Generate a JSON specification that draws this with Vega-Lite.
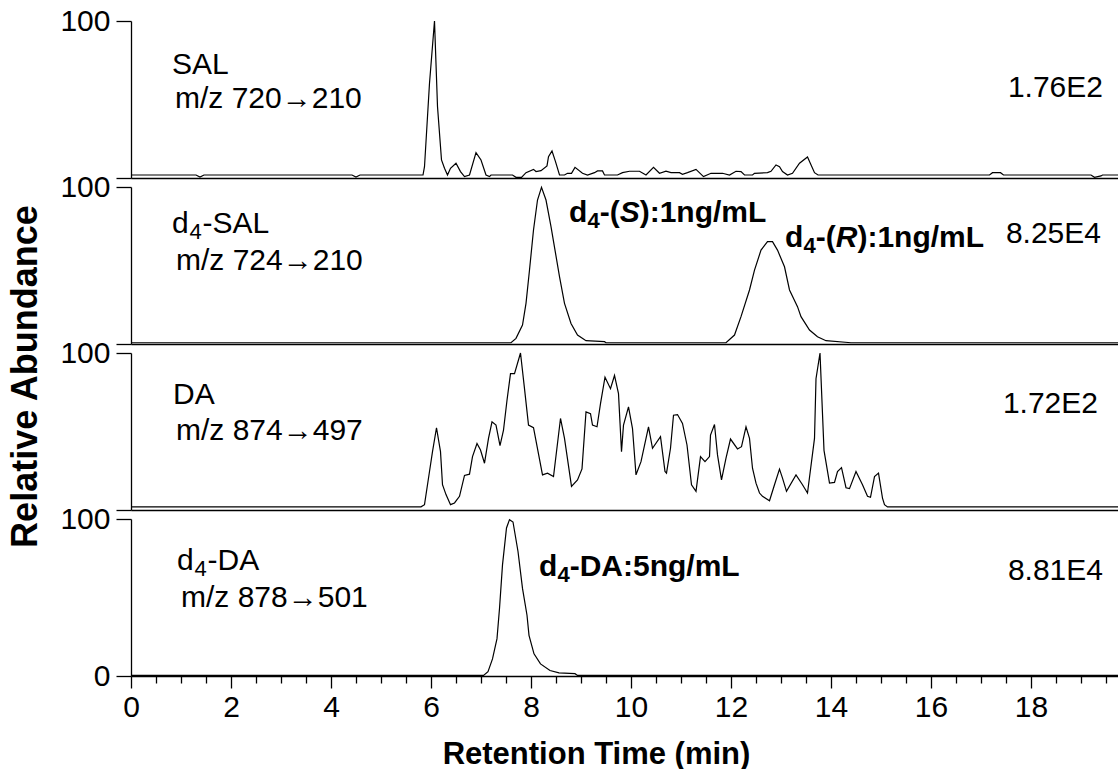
{
  "$schema": "https://vega.github.io/schema/vega-lite/v6.json",
  "padding": {"left": 7, "top": 6, "right": 0, "bottom": 0},
  "bounds": "flush",
  "spacing": 9,
  "config": {
    "font": "Liberation Sans",
    "view": {"stroke": null},
    "axis": {
      "domainColor": "black", "domainWidth": 1.3,
      "tickColor": "black", "tickWidth": 1.3,
      "labelColor": "black", "labelFontSize": 30, "labelFont": "Liberation Sans",
      "titleColor": "black", "titleFont": "Liberation Sans",
      "grid": false, "labelOverlap": false
    },
    "text": {"color": "black", "font": "Liberation Sans", "fontSize": 30, "align": "left", "baseline": "alphabetic"},
    "line": {"color": "black", "strokeWidth": 1.2}
  },
  "datasets": {
    "trace": [
      {"panel": "SAL", "t": 0, "v": 1.9}, {"panel": "SAL", "t": 1.3, "v": 1.9}, {"panel": "SAL", "t": 1.38, "v": 0.6}, {"panel": "SAL", "t": 1.46, "v": 1.9},
      {"panel": "SAL", "t": 4.42, "v": 1.9}, {"panel": "SAL", "t": 4.5, "v": 0.6}, {"panel": "SAL", "t": 4.58, "v": 1.9}, {"panel": "SAL", "t": 5.84, "v": 1.9},
      {"panel": "SAL", "t": 5.87, "v": 7.2}, {"panel": "SAL", "t": 5.97, "v": 60.3}, {"panel": "SAL", "t": 6.07, "v": 100}, {"panel": "SAL", "t": 6.13, "v": 45.5},
      {"panel": "SAL", "t": 6.21, "v": 11.5}, {"panel": "SAL", "t": 6.27, "v": 6.2}, {"panel": "SAL", "t": 6.33, "v": 1.9}, {"panel": "SAL", "t": 6.39, "v": 6.2},
      {"panel": "SAL", "t": 6.5, "v": 9.4}, {"panel": "SAL", "t": 6.59, "v": 4.1}, {"panel": "SAL", "t": 6.67, "v": 0.9}, {"panel": "SAL", "t": 6.77, "v": 1.9},
      {"panel": "SAL", "t": 6.9, "v": 16.2}, {"panel": "SAL", "t": 7.0, "v": 11.5}, {"panel": "SAL", "t": 7.1, "v": 1.9}, {"panel": "SAL", "t": 7.17, "v": 0.9},
      {"panel": "SAL", "t": 7.2, "v": 1.9}, {"panel": "SAL", "t": 7.63, "v": 1.9}, {"panel": "SAL", "t": 7.7, "v": 0.4}, {"panel": "SAL", "t": 7.81, "v": 0.4},
      {"panel": "SAL", "t": 7.9, "v": 3.4}, {"panel": "SAL", "t": 8.05, "v": 5.5}, {"panel": "SAL", "t": 8.1, "v": 4.1}, {"panel": "SAL", "t": 8.2, "v": 4.7},
      {"panel": "SAL", "t": 8.32, "v": 7.7}, {"panel": "SAL", "t": 8.35, "v": 13.6}, {"panel": "SAL", "t": 8.42, "v": 17.2}, {"panel": "SAL", "t": 8.49, "v": 10.4},
      {"panel": "SAL", "t": 8.57, "v": 1.9}, {"panel": "SAL", "t": 8.67, "v": 1.9}, {"panel": "SAL", "t": 8.73, "v": 3.0}, {"panel": "SAL", "t": 8.81, "v": 3.0},
      {"panel": "SAL", "t": 8.88, "v": 6.8}, {"panel": "SAL", "t": 9.03, "v": 3.0}, {"panel": "SAL", "t": 9.13, "v": 1.9}, {"panel": "SAL", "t": 9.27, "v": 3.4},
      {"panel": "SAL", "t": 9.33, "v": 4.5}, {"panel": "SAL", "t": 9.43, "v": 4.5}, {"panel": "SAL", "t": 9.47, "v": 1.9}, {"panel": "SAL", "t": 9.73, "v": 1.9},
      {"panel": "SAL", "t": 9.83, "v": 3.4}, {"panel": "SAL", "t": 9.97, "v": 4.3}, {"panel": "SAL", "t": 10.17, "v": 4.3}, {"panel": "SAL", "t": 10.3, "v": 1.9},
      {"panel": "SAL", "t": 10.45, "v": 6.8}, {"panel": "SAL", "t": 10.57, "v": 3.0}, {"panel": "SAL", "t": 10.7, "v": 4.3}, {"panel": "SAL", "t": 10.8, "v": 3.4},
      {"panel": "SAL", "t": 10.97, "v": 3.4}, {"panel": "SAL", "t": 11.03, "v": 2.4}, {"panel": "SAL", "t": 11.13, "v": 3.4}, {"panel": "SAL", "t": 11.3, "v": 5.5},
      {"panel": "SAL", "t": 11.45, "v": 0.9}, {"panel": "SAL", "t": 11.6, "v": 3.0}, {"panel": "SAL", "t": 11.83, "v": 3.0}, {"panel": "SAL", "t": 11.97, "v": 1.9},
      {"panel": "SAL", "t": 12.1, "v": 4.3}, {"panel": "SAL", "t": 12.2, "v": 4.1}, {"panel": "SAL", "t": 12.27, "v": 1.9}, {"panel": "SAL", "t": 12.43, "v": 1.9},
      {"panel": "SAL", "t": 12.47, "v": 3.0}, {"panel": "SAL", "t": 12.73, "v": 3.4}, {"panel": "SAL", "t": 12.8, "v": 4.3}, {"panel": "SAL", "t": 12.9, "v": 8.3},
      {"panel": "SAL", "t": 12.97, "v": 7.2}, {"panel": "SAL", "t": 13.03, "v": 4.1}, {"panel": "SAL", "t": 13.13, "v": 1.9}, {"panel": "SAL", "t": 13.23, "v": 3.0},
      {"panel": "SAL", "t": 13.37, "v": 9.4}, {"panel": "SAL", "t": 13.53, "v": 13.4}, {"panel": "SAL", "t": 13.67, "v": 3.4}, {"panel": "SAL", "t": 13.74, "v": 1.9},
      {"panel": "SAL", "t": 17.17, "v": 1.9}, {"panel": "SAL", "t": 17.23, "v": 3.4}, {"panel": "SAL", "t": 17.39, "v": 3.4}, {"panel": "SAL", "t": 17.45, "v": 1.9},
      {"panel": "SAL", "t": 19.2, "v": 1.9}, {"panel": "SAL", "t": 19.27, "v": 0.4}, {"panel": "SAL", "t": 19.4, "v": 1.3}, {"panel": "SAL", "t": 19.43, "v": 1.9},
      {"panel": "SAL", "t": 19.76, "v": 1.9},

      {"panel": "d4-SAL", "t": 0, "v": 0.8}, {"panel": "d4-SAL", "t": 7.6, "v": 0.8}, {"panel": "d4-SAL", "t": 7.7, "v": 3.6}, {"panel": "d4-SAL", "t": 7.83, "v": 12.1},
      {"panel": "d4-SAL", "t": 7.9, "v": 25.9}, {"panel": "d4-SAL", "t": 7.97, "v": 47.1}, {"panel": "d4-SAL", "t": 8.05, "v": 72.6}, {"panel": "d4-SAL", "t": 8.13, "v": 91.7},
      {"panel": "d4-SAL", "t": 8.21, "v": 99.8}, {"panel": "d4-SAL", "t": 8.3, "v": 91.7}, {"panel": "d4-SAL", "t": 8.4, "v": 74.7}, {"panel": "d4-SAL", "t": 8.48, "v": 59.8},
      {"panel": "d4-SAL", "t": 8.57, "v": 42.9}, {"panel": "d4-SAL", "t": 8.67, "v": 25.9}, {"panel": "d4-SAL", "t": 8.8, "v": 13.1}, {"panel": "d4-SAL", "t": 8.93, "v": 5.7},
      {"panel": "d4-SAL", "t": 9.1, "v": 2.1}, {"panel": "d4-SAL", "t": 9.47, "v": 1.5}, {"panel": "d4-SAL", "t": 9.5, "v": 0.8}, {"panel": "d4-SAL", "t": 11.9, "v": 0.8},
      {"panel": "d4-SAL", "t": 12.07, "v": 5.7}, {"panel": "d4-SAL", "t": 12.2, "v": 17.4}, {"panel": "d4-SAL", "t": 12.37, "v": 34.4}, {"panel": "d4-SAL", "t": 12.47, "v": 47.1},
      {"panel": "d4-SAL", "t": 12.6, "v": 59.8}, {"panel": "d4-SAL", "t": 12.73, "v": 65.2}, {"panel": "d4-SAL", "t": 12.83, "v": 65.2}, {"panel": "d4-SAL", "t": 12.93, "v": 59.8},
      {"panel": "d4-SAL", "t": 13.07, "v": 49.2}, {"panel": "d4-SAL", "t": 13.17, "v": 34.4}, {"panel": "d4-SAL", "t": 13.33, "v": 23.8}, {"panel": "d4-SAL", "t": 13.4, "v": 17.4},
      {"panel": "d4-SAL", "t": 13.57, "v": 8.9}, {"panel": "d4-SAL", "t": 13.73, "v": 4.6}, {"panel": "d4-SAL", "t": 13.9, "v": 2.1}, {"panel": "d4-SAL", "t": 14.4, "v": 0.8},
      {"panel": "d4-SAL", "t": 19.76, "v": 0.8},

      {"panel": "DA", "t": 0, "v": 2.0}, {"panel": "DA", "t": 5.8, "v": 2.0}, {"panel": "DA", "t": 5.87, "v": 3.4}, {"panel": "DA", "t": 5.97, "v": 24.5},
      {"panel": "DA", "t": 6.03, "v": 37.2}, {"panel": "DA", "t": 6.11, "v": 52.4}, {"panel": "DA", "t": 6.19, "v": 37.2}, {"panel": "DA", "t": 6.23, "v": 16.1},
      {"panel": "DA", "t": 6.3, "v": 9.8}, {"panel": "DA", "t": 6.39, "v": 3.4}, {"panel": "DA", "t": 6.47, "v": 4.5}, {"panel": "DA", "t": 6.57, "v": 8.7},
      {"panel": "DA", "t": 6.67, "v": 22.0}, {"panel": "DA", "t": 6.77, "v": 22.8}, {"panel": "DA", "t": 6.83, "v": 34.0}, {"panel": "DA", "t": 6.92, "v": 42.4},
      {"panel": "DA", "t": 6.99, "v": 38.2}, {"panel": "DA", "t": 7.07, "v": 29.8}, {"panel": "DA", "t": 7.15, "v": 45.6}, {"panel": "DA", "t": 7.22, "v": 56.2},
      {"panel": "DA", "t": 7.3, "v": 54.1}, {"panel": "DA", "t": 7.38, "v": 41.0}, {"panel": "DA", "t": 7.45, "v": 50.9}, {"panel": "DA", "t": 7.52, "v": 69.9},
      {"panel": "DA", "t": 7.59, "v": 86.8}, {"panel": "DA", "t": 7.67, "v": 86.8}, {"panel": "DA", "t": 7.79, "v": 100}, {"panel": "DA", "t": 7.87, "v": 77.3},
      {"panel": "DA", "t": 7.95, "v": 54.1}, {"panel": "DA", "t": 8.05, "v": 52.4}, {"panel": "DA", "t": 8.23, "v": 22.4}, {"panel": "DA", "t": 8.33, "v": 23.5},
      {"panel": "DA", "t": 8.45, "v": 21.3}, {"panel": "DA", "t": 8.59, "v": 58.3}, {"panel": "DA", "t": 8.67, "v": 45.6}, {"panel": "DA", "t": 8.81, "v": 15.0},
      {"panel": "DA", "t": 8.93, "v": 19.2}, {"panel": "DA", "t": 9.02, "v": 26.2}, {"panel": "DA", "t": 9.1, "v": 62.5}, {"panel": "DA", "t": 9.19, "v": 61.4},
      {"panel": "DA", "t": 9.23, "v": 54.1}, {"panel": "DA", "t": 9.32, "v": 53.0}, {"panel": "DA", "t": 9.39, "v": 67.8}, {"panel": "DA", "t": 9.48, "v": 84.6},
      {"panel": "DA", "t": 9.59, "v": 77.3}, {"panel": "DA", "t": 9.67, "v": 85.7}, {"panel": "DA", "t": 9.75, "v": 74.1}, {"panel": "DA", "t": 9.81, "v": 37.2},
      {"panel": "DA", "t": 9.85, "v": 54.1}, {"panel": "DA", "t": 9.95, "v": 65.7}, {"panel": "DA", "t": 10.03, "v": 51.9}, {"panel": "DA", "t": 10.1, "v": 22.4},
      {"panel": "DA", "t": 10.2, "v": 30.8}, {"panel": "DA", "t": 10.35, "v": 53.0}, {"panel": "DA", "t": 10.43, "v": 39.3}, {"panel": "DA", "t": 10.59, "v": 46.7},
      {"panel": "DA", "t": 10.68, "v": 24.5}, {"panel": "DA", "t": 10.71, "v": 23.5}, {"panel": "DA", "t": 10.79, "v": 39.3}, {"panel": "DA", "t": 10.85, "v": 60.4},
      {"panel": "DA", "t": 10.93, "v": 60.8}, {"panel": "DA", "t": 11.03, "v": 55.1}, {"panel": "DA", "t": 11.12, "v": 41.4}, {"panel": "DA", "t": 11.21, "v": 16.1},
      {"panel": "DA", "t": 11.3, "v": 11.9}, {"panel": "DA", "t": 11.39, "v": 34.0}, {"panel": "DA", "t": 11.48, "v": 30.8}, {"panel": "DA", "t": 11.57, "v": 34.0},
      {"panel": "DA", "t": 11.59, "v": 47.7}, {"panel": "DA", "t": 11.67, "v": 54.5}, {"panel": "DA", "t": 11.73, "v": 35.1}, {"panel": "DA", "t": 11.81, "v": 19.2},
      {"panel": "DA", "t": 11.9, "v": 33.0}, {"panel": "DA", "t": 11.99, "v": 45.2}, {"panel": "DA", "t": 12.13, "v": 38.9}, {"panel": "DA", "t": 12.21, "v": 40.3},
      {"panel": "DA", "t": 12.3, "v": 53.0}, {"panel": "DA", "t": 12.37, "v": 45.6}, {"panel": "DA", "t": 12.43, "v": 26.6}, {"panel": "DA", "t": 12.5, "v": 17.1},
      {"panel": "DA", "t": 12.57, "v": 10.8}, {"panel": "DA", "t": 12.63, "v": 8.7}, {"panel": "DA", "t": 12.77, "v": 5.9}, {"panel": "DA", "t": 12.87, "v": 16.1},
      {"panel": "DA", "t": 12.97, "v": 26.0}, {"panel": "DA", "t": 13.03, "v": 20.3}, {"panel": "DA", "t": 13.11, "v": 11.9}, {"panel": "DA", "t": 13.3, "v": 22.4},
      {"panel": "DA", "t": 13.43, "v": 16.1}, {"panel": "DA", "t": 13.53, "v": 10.8}, {"panel": "DA", "t": 13.67, "v": 45.6}, {"panel": "DA", "t": 13.7, "v": 83.6},
      {"panel": "DA", "t": 13.78, "v": 100}, {"panel": "DA", "t": 13.86, "v": 38.0}, {"panel": "DA", "t": 13.97, "v": 17.1}, {"panel": "DA", "t": 14.07, "v": 17.6},
      {"panel": "DA", "t": 14.13, "v": 24.5}, {"panel": "DA", "t": 14.21, "v": 27.0}, {"panel": "DA", "t": 14.3, "v": 14.2}, {"panel": "DA", "t": 14.37, "v": 13.6},
      {"panel": "DA", "t": 14.5, "v": 24.5}, {"panel": "DA", "t": 14.63, "v": 16.1}, {"panel": "DA", "t": 14.73, "v": 8.7}, {"panel": "DA", "t": 14.79, "v": 8.1},
      {"panel": "DA", "t": 14.87, "v": 21.3}, {"panel": "DA", "t": 14.95, "v": 23.5}, {"panel": "DA", "t": 15.03, "v": 7.6}, {"panel": "DA", "t": 15.07, "v": 3.4},
      {"panel": "DA", "t": 15.13, "v": 2.0}, {"panel": "DA", "t": 19.76, "v": 2.0},

      {"panel": "d4-DA", "t": 0, "v": 0.4}, {"panel": "d4-DA", "t": 7.05, "v": 0.4}, {"panel": "d4-DA", "t": 7.14, "v": 2.8}, {"panel": "d4-DA", "t": 7.23, "v": 10.9},
      {"panel": "d4-DA", "t": 7.32, "v": 23.8}, {"panel": "d4-DA", "t": 7.37, "v": 43.0}, {"panel": "d4-DA", "t": 7.43, "v": 70.8}, {"panel": "d4-DA", "t": 7.51, "v": 94.3},
      {"panel": "d4-DA", "t": 7.57, "v": 99.6}, {"panel": "d4-DA", "t": 7.64, "v": 98.1}, {"panel": "d4-DA", "t": 7.74, "v": 79.3}, {"panel": "d4-DA", "t": 7.83, "v": 55.8},
      {"panel": "d4-DA", "t": 7.92, "v": 38.7}, {"panel": "d4-DA", "t": 7.96, "v": 25.9}, {"panel": "d4-DA", "t": 8.06, "v": 14.1}, {"panel": "d4-DA", "t": 8.19, "v": 7.7},
      {"panel": "d4-DA", "t": 8.38, "v": 3.5}, {"panel": "d4-DA", "t": 8.56, "v": 2.0}, {"panel": "d4-DA", "t": 8.88, "v": 1.5}, {"panel": "d4-DA", "t": 8.93, "v": 0.4},
      {"panel": "d4-DA", "t": 19.76, "v": 0.4}
    ],
    "names": [
      {"panel": "SAL", "t": 0.82, "v": 66.2, "text": "SAL"},
      {"panel": "DA", "t": 0.84, "v": 67.7, "text": "DA"}
    ],
    "dnames": [
      {"panel": "d4-SAL", "t": 0.82, "v": 70.7, "lead": "d", "sub": "4", "rest": "-SAL"},
      {"panel": "d4-DA", "t": 0.92, "v": 67.3, "lead": "d", "sub": "4", "rest": "-DA"}
    ],
    "transitions": [
      {"panel": "SAL", "t": 0.88, "v": 44.6, "text": "m/z 720→210"},
      {"panel": "d4-SAL", "t": 0.9, "v": 47.1, "text": "m/z 724→210"},
      {"panel": "DA", "t": 0.9, "v": 44.9, "text": "m/z 874→497"},
      {"panel": "d4-DA", "t": 1.0, "v": 44.2, "text": "m/z 878→501"}
    ],
    "intensity": [
      {"panel": "SAL", "t": 19.44, "v": 51.6, "text": "1.76E2"},
      {"panel": "d4-SAL", "t": 19.4, "v": 64.3, "text": "8.25E4"},
      {"panel": "DA", "t": 19.34, "v": 62.0, "text": "1.72E2"},
      {"panel": "d4-DA", "t": 19.44, "v": 60.9, "text": "8.81E4"}
    ],
    "enantiomers": [
      {"panel": "d4-SAL", "t": 8.76, "v": 77.7, "lead": "d", "sub": "4", "open": "-(", "config": "S", "close": "):1ng/mL"},
      {"panel": "d4-SAL", "t": 13.08, "v": 61.8, "lead": "d", "sub": "4", "open": "-(", "config": "R", "close": "):1ng/mL"}
    ],
    "istd": [
      {"panel": "d4-DA", "t": 8.16, "v": 63.5, "lead": "d", "sub": "4", "rest": "-DA:5ng/mL"}
    ]
  },
  "vconcat": [
    {
      "width": 988, "height": 157,
      "encoding": {
        "x": {"field": "t", "type": "quantitative", "scale": {"domain": [0, 19.76], "nice": false, "zero": false},
              "axis": {"title": null, "labels": false, "ticks": false, "domain": true}},
        "y": {"field": "v", "type": "quantitative", "scale": {"domain": [0, 100], "nice": false},
              "axis": {"title": null, "values": [0, 100], "tickSize": 15, "labelPadding": 6, "labelFontSize": 30, "labelExpr": "datum.value === 100 ? '100' : ''"}}
      },
      "layer": [
        {"data": {"name": "trace"}, "transform": [{"filter": "datum.panel === 'SAL'"}], "mark": {"type": "line", "clip": false}},
        {"data": {"name": "names"}, "transform": [{"filter": "datum.panel === 'SAL'"}], "mark": {"type": "text"}, "encoding": {"text": {"field": "text"}}},
        {"data": {"name": "transitions"}, "transform": [{"filter": "datum.panel === 'SAL'"}], "mark": {"type": "text"}, "encoding": {"text": {"field": "text"}}},
        {"data": {"name": "intensity"}, "transform": [{"filter": "datum.panel === 'SAL'"}], "mark": {"type": "text", "align": "right"}, "encoding": {"text": {"field": "text"}}}
      ]
    },
    {
      "width": 988, "height": 157,
      "encoding": {
        "x": {"field": "t", "type": "quantitative", "scale": {"domain": [0, 19.76], "nice": false, "zero": false},
              "axis": {"title": null, "labels": false, "ticks": false, "domain": true}},
        "y": {"field": "v", "type": "quantitative", "scale": {"domain": [0, 100], "nice": false},
              "axis": {"title": "Relative Abundance", "titleFontSize": 36, "titleFontWeight": "bold", "titleX": -95, "titleY": 189,
                       "titleAngle": 270, "titleBaseline": "alphabetic", "titleAlign": "center",
                       "values": [0, 100], "tickSize": 15, "labelPadding": 6, "labelFontSize": 30, "labelExpr": "datum.value === 100 ? '100' : ''"}}
      },
      "layer": [
        {"data": {"name": "trace"}, "transform": [{"filter": "datum.panel === 'd4-SAL'"}], "mark": {"type": "line", "clip": false}},
        {"data": {"name": "dnames"}, "transform": [{"filter": "datum.panel === 'd4-SAL'"}], "mark": {"type": "text"}, "encoding": {"text": {"field": "lead"}}},
        {"data": {"name": "dnames"}, "transform": [{"filter": "datum.panel === 'd4-SAL'"}], "mark": {"type": "text", "fontSize": 22, "dx": 17.5, "dy": 6}, "encoding": {"text": {"field": "sub"}}},
        {"data": {"name": "dnames"}, "transform": [{"filter": "datum.panel === 'd4-SAL'"}], "mark": {"type": "text", "dx": 30.5}, "encoding": {"text": {"field": "rest"}}},
        {"data": {"name": "transitions"}, "transform": [{"filter": "datum.panel === 'd4-SAL'"}], "mark": {"type": "text"}, "encoding": {"text": {"field": "text"}}},
        {"data": {"name": "intensity"}, "transform": [{"filter": "datum.panel === 'd4-SAL'"}], "mark": {"type": "text", "align": "right"}, "encoding": {"text": {"field": "text"}}},
        {"data": {"name": "enantiomers"}, "mark": {"type": "text", "fontWeight": "bold"}, "encoding": {"text": {"field": "lead"}}},
        {"data": {"name": "enantiomers"}, "mark": {"type": "text", "fontWeight": "bold", "fontSize": 22, "dx": 18.5, "dy": 6}, "encoding": {"text": {"field": "sub"}}},
        {"data": {"name": "enantiomers"}, "mark": {"type": "text", "fontWeight": "bold", "dx": 30.7}, "encoding": {"text": {"field": "open"}}},
        {"data": {"name": "enantiomers"}, "mark": {"type": "text", "fontWeight": "bold", "fontStyle": "italic", "dx": 50.7}, "encoding": {"text": {"field": "config"}}},
        {"data": {"name": "enantiomers"}, "transform": [{"filter": "datum.config === 'S'"}], "mark": {"type": "text", "fontWeight": "bold", "dx": 70.7}, "encoding": {"text": {"field": "close"}}},
        {"data": {"name": "enantiomers"}, "transform": [{"filter": "datum.config === 'R'"}], "mark": {"type": "text", "fontWeight": "bold", "dx": 72.4}, "encoding": {"text": {"field": "close"}}}
      ]
    },
    {
      "width": 988, "height": 157,
      "encoding": {
        "x": {"field": "t", "type": "quantitative", "scale": {"domain": [0, 19.76], "nice": false, "zero": false},
              "axis": {"title": null, "labels": false, "ticks": false, "domain": true}},
        "y": {"field": "v", "type": "quantitative", "scale": {"domain": [0, 100], "nice": false},
              "axis": {"title": null, "values": [0, 100], "tickSize": 15, "labelPadding": 6, "labelFontSize": 30, "labelExpr": "datum.value === 100 ? '100' : ''"}}
      },
      "layer": [
        {"data": {"name": "trace"}, "transform": [{"filter": "datum.panel === 'DA'"}], "mark": {"type": "line", "clip": false}},
        {"data": {"name": "names"}, "transform": [{"filter": "datum.panel === 'DA'"}], "mark": {"type": "text"}, "encoding": {"text": {"field": "text"}}},
        {"data": {"name": "transitions"}, "transform": [{"filter": "datum.panel === 'DA'"}], "mark": {"type": "text"}, "encoding": {"text": {"field": "text"}}},
        {"data": {"name": "intensity"}, "transform": [{"filter": "datum.panel === 'DA'"}], "mark": {"type": "text", "align": "right"}, "encoding": {"text": {"field": "text"}}}
      ]
    },
    {
      "width": 988, "height": 157,
      "encoding": {
        "x": {"field": "t", "type": "quantitative", "scale": {"domain": [0, 19.76], "nice": false, "zero": false},
              "axis": {"title": "Retention Time (min)", "titleFontSize": 31, "titleFontWeight": "bold", "titleX": 465, "titleY": 87,
                       "titleBaseline": "alphabetic", "titleAlign": "center",
                       "values": [0, 0.5, 1, 1.5, 2, 2.5, 3, 3.5, 4, 4.5, 5, 5.5, 6, 6.5, 7, 7.5, 8, 8.5, 9, 9.5, 10, 10.5, 11, 11.5, 12, 12.5, 13, 13.5, 14, 14.5, 15, 15.5, 16, 16.5, 17, 17.5, 18, 18.5, 19, 19.5],
                       "labelExpr": "datum.value % 2 === 0 ? format(datum.value, 'd') : ''",
                       "tickSize": {"condition": {"test": "datum.value % 2 === 0", "value": 12}, "value": 7},
                       "labelFontSize": 30, "labelPadding": 4, "labelFlush": false}},
        "y": {"field": "v", "type": "quantitative", "scale": {"domain": [0, 100], "nice": false},
              "axis": {"title": null, "values": [0, 100], "tickSize": 15, "labelPadding": 6, "labelFontSize": 30}}
      },
      "layer": [
        {"data": {"name": "trace"}, "transform": [{"filter": "datum.panel === 'd4-DA'"}], "mark": {"type": "line", "clip": false}},
        {"data": {"name": "dnames"}, "transform": [{"filter": "datum.panel === 'd4-DA'"}], "mark": {"type": "text"}, "encoding": {"text": {"field": "lead"}}},
        {"data": {"name": "dnames"}, "transform": [{"filter": "datum.panel === 'd4-DA'"}], "mark": {"type": "text", "fontSize": 22, "dx": 17.5, "dy": 6}, "encoding": {"text": {"field": "sub"}}},
        {"data": {"name": "dnames"}, "transform": [{"filter": "datum.panel === 'd4-DA'"}], "mark": {"type": "text", "dx": 30.5}, "encoding": {"text": {"field": "rest"}}},
        {"data": {"name": "transitions"}, "transform": [{"filter": "datum.panel === 'd4-DA'"}], "mark": {"type": "text"}, "encoding": {"text": {"field": "text"}}},
        {"data": {"name": "intensity"}, "transform": [{"filter": "datum.panel === 'd4-DA'"}], "mark": {"type": "text", "align": "right"}, "encoding": {"text": {"field": "text"}}},
        {"data": {"name": "istd"}, "mark": {"type": "text", "fontWeight": "bold"}, "encoding": {"text": {"field": "lead"}}},
        {"data": {"name": "istd"}, "mark": {"type": "text", "fontWeight": "bold", "fontSize": 22, "dx": 18.5, "dy": 6}, "encoding": {"text": {"field": "sub"}}},
        {"data": {"name": "istd"}, "mark": {"type": "text", "fontWeight": "bold", "dx": 30.7}, "encoding": {"text": {"field": "rest"}}}
      ]
    }
  ]
}
